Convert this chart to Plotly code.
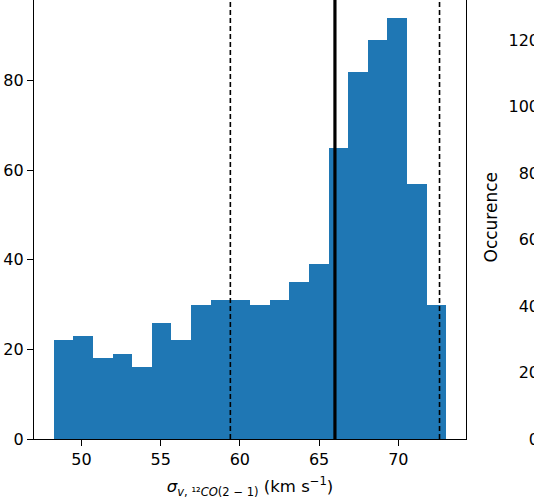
import numpy as np
import plotly.graph_objects as go

# Histogram data
bin_start = 48.25
bin_end = 73.03
counts = [22, 23, 18, 19, 16, 26, 22, 30, 31, 31, 30, 31, 35, 39, 65, 82, 89, 94, 57, 30]
dashed_lines = [59.4, 72.6]
solid_line = [66.0]
x_ticks = [50, 55, 60, 65, 70]
y_ticks = [0, 20, 40, 60, 80]
y2_ticks = [0, 20, 40, 60, 80, 100, 120]

n = len(counts)
edges = np.linspace(bin_start, bin_end, n + 1)
centers = (edges[:-1] + edges[1:]) / 2
width = edges[1] - edges[0]

FONT = "DejaVu Sans"
BLUE = "#1f77b4"

fig = go.Figure()
fig.add_trace(go.Bar(x=centers, y=counts, width=[width] * n,
                     marker=dict(color=BLUE, line=dict(width=0)),
                     showlegend=False, hoverinfo="skip"))
# invisible trace to activate the second y axis
fig.add_trace(go.Scatter(x=[None], y=[None], yaxis="y2", showlegend=False))

shapes = []
for v in dashed_lines:
    shapes.append(dict(type="line", xref="x", yref="y domain", x0=v, x1=v, y0=0, y1=1,
                       line=dict(color="black", width=1.6, dash="5px,3px")))
for v in solid_line:
    shapes.append(dict(type="line", xref="x", yref="y domain", x0=v, x1=v, y0=0, y1=1,
                       line=dict(color="black", width=3.2)))

title_text = ("<i>σ</i><sub><i>v</i>, ¹²<i>CO</i>(2 − 1)</sub>"
              " (km s<sup>−1</sup>)")

fig.update_layout(
    width=534, height=504,
    margin=dict(l=34, r=0, t=0, b=65),
    plot_bgcolor="white", paper_bgcolor="white",
    font=dict(family=FONT, size=16, color="black"),
    bargap=0,
    shapes=shapes,
    xaxis=dict(domain=[0, 0.864], range=[47.01, 74.27], tickvals=x_ticks,
               ticks="outside", ticklen=6, tickwidth=1.2, tickcolor="black",
               showline=True, linecolor="black", linewidth=1.2, mirror=False,
               showgrid=False, zeroline=False,
               title=dict(text=title_text, font=dict(size=16.5), standoff=12)),
    yaxis=dict(range=[0, 98.03], tickvals=y_ticks,
               ticks="outside", ticklen=6, tickwidth=1.2, tickcolor="black",
               showline=True, linecolor="black", linewidth=1.2, mirror=True,
               showgrid=False, zeroline=False),
    yaxis2=dict(overlaying="y", anchor="free", position=1.0, side="left",
                range=[0, 132.04], tickvals=y2_ticks, ticks="",
                showline=False, showgrid=False, zeroline=False,
                ticklabelstandoff=-5),
    annotations=[dict(text="Occurence", xref="paper", yref="paper",
                      x=(490 - 34) / 500, y=(439 - 217.5) / 439,
                      textangle=-90, showarrow=False,
                      font=dict(size=17), xanchor="center", yanchor="middle")],
)

fig.write_html("out.html")
